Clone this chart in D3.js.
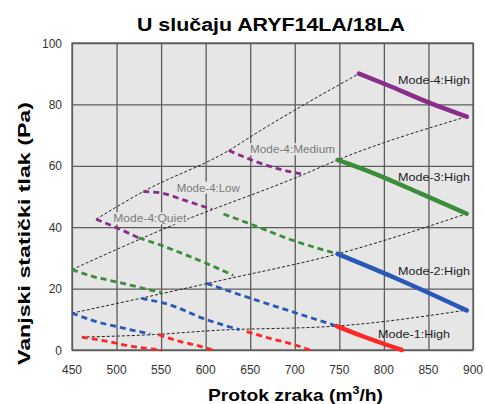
<!DOCTYPE html>
<html>
<head>
<meta charset="utf-8">
<script src="https://cdn.jsdelivr.net/npm/d3@7"></script>
<style>
  body { margin: 0; background: #fff; }
  svg { display: block; font-family: "Liberation Sans", Arial, sans-serif; }
</style>
</head>
<body>
<div id="chart"></div>
<script>
// axis ticks
const xTicks = [450, 500, 550, 600, 650, 700, 750, 800, 850, 900];
const yTicks = [0, 20, 40, 60, 80, 100];

// fan speed lines [airflow m3/h, static pressure Pa]
const m4Quiet = [[477, 42.6], [501, 39.7], [525, 36.5]];
const m4Low = [[530, 51.6], [549, 51.2], [575, 48.9], [607, 45.8]];
const m4Medium = [[626, 65], [657, 61.3], [683, 58.9], [710, 57.2]];
const m4High = [[772, 90], [803, 86.4], [852, 80.4], [893, 76]];

const m3Quiet = [[450, 26.2], [474, 23.9], [500, 22.2], [523, 20.6], [541, 19.3], [551, 18.7]];
const m3Low = [[525, 36.5], [549, 34.2], [575, 31.3], [605, 27.7], [631, 24.3]];
const m3Medium = [[620, 44.3], [646, 41.5], [700, 35.5], [748, 31.3]];
const m3High = [[748, 61.9], [788, 57.6], [841, 51], [893, 44.4]];

const m2Quiet = [[450, 12], [478, 9.2], [508, 7.1], [538, 5.2]];
const m2Low = [[528, 16.8], [560, 14.7], [597, 10.3], [638, 6.6]];
const m2Medium = [[601, 21.7], [653, 16.6], [700, 12.2], [747, 7.8]];
const m2High = [[748, 31.3], [814, 23.3], [893, 12.9]];

const m1Quiet = [[461, 4.2], [490, 2.8], [515, 1.3], [551, 0]];
const m1Low = [[547, 5], [571, 2.8], [594, 1.2], [608, 0]];
const m1Medium = [[646, 6], [672, 3.8], [695, 2.1], [717, 0]];
const m1High = [[747, 7.8], [777, 4.4], [820, 0]];

// duct resistance curves (black dashed)
const curveA = [[477, 42.6], [530, 51.6], [626, 65], [660, 71.2], [772, 90]];
const curveB = [[450, 26.2], [560, 40.3], [710, 57.2], [748, 61.9], [893, 76]];
const curveC = [[450, 12], [528, 16.9], [616, 22.6], [748, 31.3], [893, 44.4]];
const curveD = [[461, 4.2], [540, 5], [612, 6.4], [747, 7.8], [893, 13]];

const labelNames = ['Mode-4:Quiet', 'Mode-4:Low', 'Mode-4:Medium', 'Mode-4:High',
  'Mode-3:High', 'Mode-2:High', 'Mode-1:High'];
const labelAt = [[496.3, 42.9], [567.5, 52.9], [649.8, 65.4], [815.8, 87.9],
  [815.8, 56.3], [815.8, 25.8], [793.4, 5.1]];

const W = 485, H = 404;
const pLeft = 72, pRight = 473, pTop = 43, pBottom = 350;

const colors = { m4: '#8a2d8a', m3: '#3b8c3b', m2: '#2a58b8', m1: '#ff2626' };

const svg = d3.select('#chart').append('svg')
  .attr('width', W).attr('height', H);

const x = d3.scaleLinear().domain([450, 900]).range([pLeft, pRight]);
const y = d3.scaleLinear().domain([0, 100]).range([pBottom, pTop]);

// plot background
svg.append('rect')
  .attr('x', pLeft).attr('y', pTop)
  .attr('width', pRight - pLeft).attr('height', pBottom - pTop)
  .attr('fill', '#e6e6e6');

// grid
svg.append('g')
  .attr('transform', `translate(0,${pBottom})`)
  .call(d3.axisBottom(x).tickValues(xTicks).tickSize(-(pBottom - pTop)).tickFormat(''))
  .call(g => g.select('.domain').remove())
  .selectAll('line').attr('stroke', '#5c5c5c').attr('stroke-width', 1.3);

svg.append('g')
  .attr('transform', `translate(${pLeft},0)`)
  .call(d3.axisLeft(y).tickValues(yTicks).tickSize(-(pRight - pLeft)).tickFormat(''))
  .call(g => g.select('.domain').remove())
  .selectAll('line').attr('stroke', '#5c5c5c').attr('stroke-width', 1.3);

svg.append('rect')
  .attr('x', pLeft).attr('y', pTop)
  .attr('width', pRight - pLeft).attr('height', pBottom - pTop)
  .attr('fill', 'none').attr('stroke', '#5c5c5c').attr('stroke-width', 1.3);

// tick labels
svg.append('g').selectAll('text')
  .data(xTicks).enter().append('text')
  .attr('x', d => x(d)).attr('y', 373.5)
  .attr('text-anchor', 'middle')
  .attr('font-size', 12).attr('fill', '#333')
  .text(d => d);

svg.append('g').selectAll('text')
  .data(yTicks).enter().append('text')
  .attr('x', 62).attr('y', d => y(d) + 4.5)
  .attr('text-anchor', 'end')
  .attr('font-size', 12).attr('fill', '#333')
  .text(d => d);

const line = d3.line()
  .x(d => x(d[0])).y(d => y(d[1]))
  .curve(d3.curveMonotoneX);

// resistance curves
[curveA, curveB, curveC, curveD].forEach(c => {
  svg.append('path')
    .attr('d', line(c))
    .attr('fill', 'none')
    .attr('stroke', '#222')
    .attr('stroke-width', 1)
    .attr('stroke-dasharray', '3,2');
});

// gray labels get a background so curves pass behind them
labelNames.forEach((name, i) => {
  let high = name.endsWith('High'),
    w = name === 'Mode-4:Medium' ? 85 : name === 'Mode-4:Low' ? 63 : name === 'Mode-4:Quiet' ? 73 : 72,
    lx = x(labelAt[i][0]), ly = y(labelAt[i][1]);
  if (!high) {
    svg.append('rect')
      .attr('x', lx - 1).attr('y', ly - 6)
      .attr('width', w + 2).attr('height', 12)
      .attr('fill', '#e6e6e6');
  }
  svg.append('text')
    .attr('class', 'mode-label')
    .attr('x', lx).attr('y', ly + 4)
    .attr('font-size', 11)
    .attr('textLength', w)
    .attr('lengthAdjust', 'spacingAndGlyphs')
    .attr('fill', high ? '#1e1e1e' : '#7a7a7a')
    .text(name);
});

// dashed speed lines
const dashed = [
  [m4Quiet, 'm4'], [m4Low, 'm4'], [m4Medium, 'm4'],
  [m3Quiet, 'm3'], [m3Low, 'm3'], [m3Medium, 'm3'],
  [m2Quiet, 'm2'], [m2Low, 'm2'], [m2Medium, 'm2'],
  [m1Quiet, 'm1'], [m1Low, 'm1'], [m1Medium, 'm1']
];
dashed.forEach(([s, k]) => {
  svg.append('path')
    .attr('d', line(s))
    .attr('fill', 'none')
    .attr('stroke', colors[k])
    .attr('stroke-width', 2.8)
    .attr('stroke-dasharray', '6,4');
});

// solid high lines
[[m4High, 'm4'], [m3High, 'm3'], [m2High, 'm2'], [m1High, 'm1']].forEach(([s, k]) => {
  svg.append('path')
    .attr('d', line(s))
    .attr('fill', 'none')
    .attr('stroke', colors[k])
    .attr('stroke-width', 4.5)
    .attr('stroke-linecap', 'round');
});

// title and axis titles
svg.append('text')
  .attr('x', 271).attr('y', 30.5)
  .attr('text-anchor', 'middle')
  .attr('font-size', 17.5).attr('font-weight', 'bold')
  .attr('textLength', 268).attr('lengthAdjust', 'spacingAndGlyphs')
  .text('U slučaju ARYF14LA/18LA');

const xt = svg.append('text')
  .attr('x', 295.5).attr('y', 400.5)
  .attr('text-anchor', 'middle')
  .attr('font-size', 17).attr('font-weight', 'bold')
  .attr('textLength', 175).attr('lengthAdjust', 'spacingAndGlyphs');
xt.append('tspan').text('Protok zraka  (m');
xt.append('tspan').attr('font-size', 11).attr('dy', -7).text('3');
xt.append('tspan').attr('dy', 7).text('/h)');

svg.append('text')
  .attr('transform', 'translate(30,233.5) rotate(-90)')
  .attr('text-anchor', 'middle')
  .attr('font-size', 17).attr('font-weight', 'bold')
  .attr('textLength', 263).attr('lengthAdjust', 'spacingAndGlyphs')
  .text('Vanjski statički tlak (Pa)');
</script>
</body>
</html>
